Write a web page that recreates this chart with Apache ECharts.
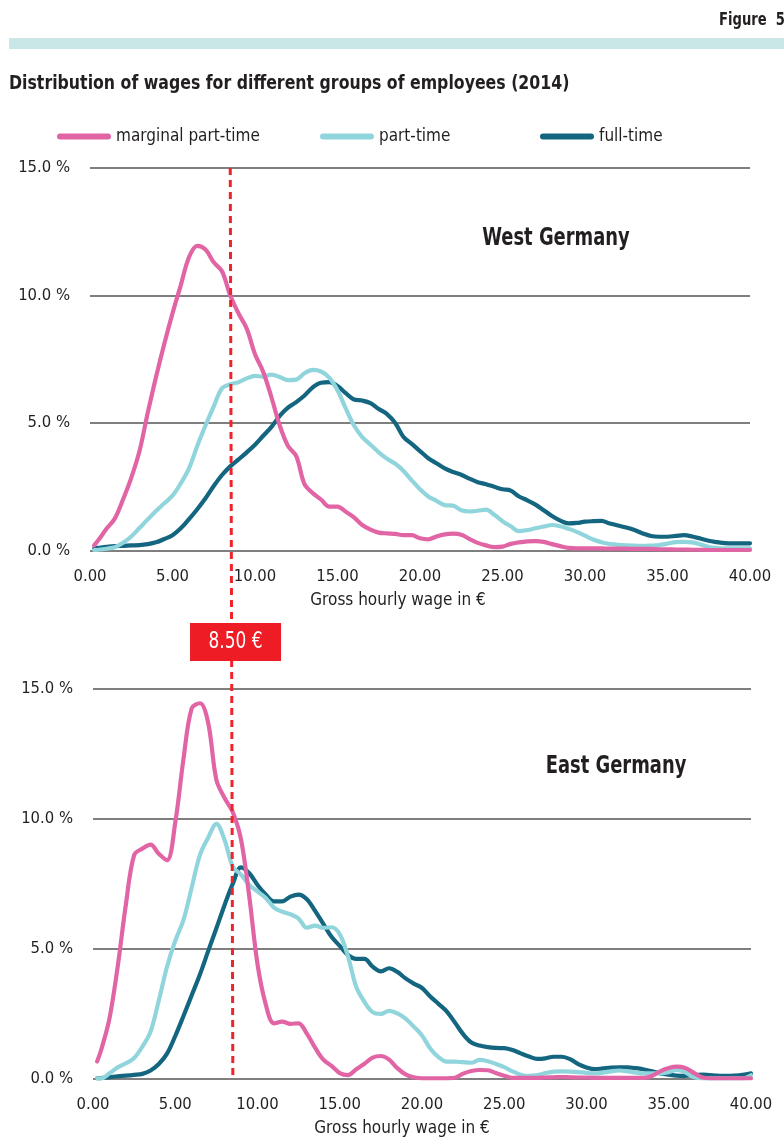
<!DOCTYPE html>
<html><head><meta charset="utf-8">
<script src="https://cdn.jsdelivr.net/npm/echarts@6/dist/echarts.min.js"></script>
<style>html,body{margin:0;padding:0;background:#fff;} #c{width:784px;height:1140px;}</style>
</head><body><div id="c"></div>
<script>
// ---- data ----
const MIN_WAGE = 8.5;
const wages = [0.25,0.5,1,1.5,2,2.5,3,3.5,4,4.5,
  5,5.5,6,6.5,7,7.5,8,8.5,9,9.5,
  10,10.5,11,11.5,12,12.5,13,13.5,14,14.5,
  15,15.5,16,16.5,17,17.5,18,18.5,19,19.5,
  20,20.5,21,21.5,22,22.5,23,23.5,24,24.5,
  25,25.5,26,26.5,27,27.5,28,28.5,29,29.5,
  30,30.5,31,31.5,32,32.5,33,33.5,34,34.5,
  35,35.5,36,36.5,37,37.5,38,38.5,39,39.5,
  40];
const xTicks = [0,5,10,15,20,25,30,35,40];
const yTicks = [0,5,10,15];
const seriesNames = ['marginal part-time','part-time','full-time'];
const regionNames = ['West Germany','East Germany'];

// West Germany (% of employees)
const westMarginal = [0.2,0.4,0.85,1.25,2.0,2.85,3.9,5.4,6.8,8.1,
  9.3,10.4,11.5,11.95,11.8,11.3,10.95,10.0,9.3,8.7,
  7.7,7.0,6.0,4.9,4.1,3.7,2.6,2.25,2.0,1.72,
  1.72,1.52,1.3,1.0,0.82,0.7,0.67,0.65,0.6,0.6,
  0.48,0.44,0.55,0.63,0.66,0.62,0.45,0.3,0.2,0.13,
  0.15,0.26,0.32,0.36,0.37,0.34,0.25,0.17,0.1,0.08,
  0.08,0.08,0.08,0.07,0.07,0.07,0.06,0.06,0.06,0.05,
  0.05,0.04,0.04,0.03,0.03,0.02,0.02,0.02,0.02,0.02,
  0.02];
const westPart = [0.02,0.03,0.07,0.13,0.3,0.55,0.88,1.22,1.55,1.85,
  2.15,2.63,3.22,4.1,4.9,5.65,6.36,6.52,6.6,6.75,
  6.85,6.82,6.9,6.8,6.68,6.7,6.95,7.08,7.02,6.78,
  6.28,5.57,4.9,4.45,4.15,3.85,3.6,3.4,3.12,2.75,
  2.4,2.12,1.95,1.78,1.76,1.58,1.53,1.56,1.6,1.4,
  1.15,0.95,0.76,0.8,0.87,0.94,1.0,0.95,0.85,0.73,
  0.58,0.43,0.32,0.26,0.22,0.2,0.19,0.18,0.19,0.21,
  0.27,0.33,0.34,0.32,0.24,0.14,0.1,0.08,0.08,0.08,
  0.08];
const westFull = [0.08,0.1,0.14,0.17,0.18,0.2,0.21,0.25,0.32,0.45,
  0.6,0.87,1.23,1.62,2.05,2.53,2.96,3.3,3.57,3.85,
  4.15,4.5,4.85,5.28,5.6,5.82,6.08,6.4,6.58,6.6,
  6.45,6.17,5.92,5.88,5.78,5.55,5.35,5.0,4.45,4.18,
  3.9,3.62,3.42,3.22,3.08,2.97,2.82,2.68,2.6,2.5,
  2.4,2.35,2.12,1.97,1.8,1.58,1.35,1.17,1.06,1.08,
  1.13,1.15,1.16,1.06,0.98,0.9,0.8,0.67,0.57,0.54,
  0.54,0.57,0.6,0.55,0.47,0.38,0.33,0.29,0.28,0.28,
  0.28];
// East Germany (% of employees)
const eastMarginal = [0.65,1.1,2.3,4.3,6.7,8.6,8.85,9.0,8.65,8.4,
  9.85,12.3,14.25,14.45,13.7,11.5,10.8,10.25,9.2,7.0,
  4.4,2.85,2.12,2.18,2.1,2.12,1.72,1.18,0.72,0.48,
  0.2,0.12,0.35,0.56,0.8,0.86,0.72,0.39,0.15,0.04,
  0,0,0,0,0.02,0.18,0.28,0.32,0.31,0.2,
  0.1,0.02,0.02,0.02,0.02,0.03,0.04,0.05,0.04,0.03,
  0.03,0.02,0.02,0.02,0.02,0.02,0.02,0.02,0.1,0.28,
  0.4,0.45,0.4,0.22,0.04,0,0,0,0,0,
  0];
const eastPart = [0,0,0.19,0.42,0.58,0.78,1.22,1.8,3.0,4.3,
  5.3,6.1,7.35,8.6,9.27,9.8,9.18,8.15,7.85,7.45,
  7.2,6.95,6.58,6.42,6.32,6.15,5.8,5.88,5.8,5.82,
  5.55,4.7,3.53,2.95,2.55,2.48,2.6,2.5,2.3,1.99,
  1.65,1.15,0.82,0.64,0.64,0.62,0.6,0.71,0.66,0.55,
  0.43,0.27,0.14,0.09,0.12,0.2,0.26,0.27,0.26,0.24,
  0.21,0.19,0.22,0.27,0.3,0.27,0.22,0.19,0.19,0.19,
  0.24,0.32,0.23,0.05,0,0,0,0,0,0,
  0.12];
const eastFull = [0,0.01,0.04,0.08,0.1,0.13,0.17,0.3,0.55,0.95,
  1.63,2.4,3.2,4.0,4.9,5.78,6.68,7.5,8.13,7.9,
  7.45,7.08,6.82,6.82,7.0,7.08,6.9,6.45,5.95,5.45,
  5.1,4.75,4.6,4.6,4.3,4.12,4.24,4.1,3.85,3.65,
  3.48,3.15,2.87,2.58,2.15,1.7,1.38,1.26,1.2,1.17,
  1.16,1.09,0.96,0.84,0.75,0.77,0.83,0.83,0.74,0.55,
  0.42,0.35,0.38,0.41,0.42,0.42,0.39,0.34,0.27,0.19,
  0.14,0.1,0.09,0.12,0.14,0.12,0.1,0.09,0.1,0.13,
  0.19];

// ---- styling ----
const FONT = '"DejaVu Sans Condensed","DejaVu Sans",sans-serif';
const TXT = '#231f20';
const COLORS = ['#e165a5', '#91d5dc', '#14657f'];
const LEGEND_LEFT = [57, 320, 540];
const ICON = 'path://M3,0 L51,0 A3,3 0 0 1 51,6 L3,6 A3,3 0 0 1 3,0 Z';
const FS = 16.5;

const chart = echarts.init(document.getElementById('c'), null, {renderer: 'canvas'});

function pairs(arr) { return wages.map((w, i) => [w, arr[i]]); }
const groups = [[westMarginal, westPart, westFull], [eastMarginal, eastPart, eastFull]];

const series = [];
groups.forEach((g, gi) => {
  [2, 1, 0].forEach(k => {
    series.push({
      name: seriesNames[k], type: 'line', xAxisIndex: gi, yAxisIndex: gi,
      data: pairs(g[k]), showSymbol: false, smooth: 0.35,
      lineStyle: {color: COLORS[k], width: 4.2, cap: 'round', join: 'round'},
      itemStyle: {color: COLORS[k]}, z: 3 + (2 - k)
    });
  });
});

const option = {
  animation: false,
  backgroundColor: '#fff',
  grid: [
    {left: 90, right: 34, top: 168, height: 382.5},
    {left: 93, right: 33, top: 689, height: 389.3}
  ],
  xAxis: [0, 1].map(i => ({
    type: 'value', gridIndex: i, min: xTicks[0], max: xTicks[xTicks.length - 1], interval: 5,
    axisLine: {show: false}, axisTick: {show: false}, splitLine: {show: false},
    axisLabel: {formatter: v => v.toFixed(2), fontSize: FS, color: TXT, fontFamily: FONT, margin: 18},
    name: 'Gross hourly wage in €', nameLocation: 'middle', nameGap: 42,
    nameTextStyle: {fontSize: 17, color: TXT, fontFamily: FONT, padding: [0, i === 0 ? 44 : 40, 0, 0]}
  })),
  yAxis: [0, 1].map(i => ({
    type: 'value', gridIndex: i, min: yTicks[0], max: yTicks[yTicks.length - 1], interval: 5,
    axisLine: {show: false}, axisTick: {show: false},
    splitLine: {lineStyle: {color: '#7f7f7f', width: 2}},
    axisLabel: {formatter: v => v.toFixed(1) + ' %', fontSize: FS, color: TXT, fontFamily: FONT, margin: 20}
  })),
  legend: seriesNames.map((n, k) => ({
    data: [n], left: LEGEND_LEFT[k], top: 128, padding: 0, itemGap: 0,
    itemWidth: 54, itemHeight: 6, icon: ICON, selectedMode: false,
    textStyle: {fontSize: 17, color: TXT, fontFamily: FONT}
  })),
  series: series
};
chart.setOption(option);

const xT = chart.convertToPixel({xAxisIndex: 0}, MIN_WAGE);
const xB = chart.convertToPixel({xAxisIndex: 1}, MIN_WAGE);
const yT = chart.convertToPixel({yAxisIndex: 0}, yTicks[yTicks.length - 1]);
const yB = chart.convertToPixel({yAxisIndex: 1}, 0);
const xMid = (xT + xB) / 2;

function label(text, x, y, font, align, sx, fill) {
  return {type: 'text', x: x, y: y, z: 62, scaleX: sx, scaleY: 1,
    style: {text: text, fill: fill || TXT, font: font, align: align, verticalAlign: 'middle'}};
}

chart.setOption({
  graphic: [
    label('Figure  5', 785, 21, 'bold 17px ' + FONT, 'right', 0.86),
    {type: 'rect', shape: {x: 9, y: 38, width: 775, height: 11}, style: {fill: '#c9e7e7'}, z: 50},
    label('Distribution of wages for different groups of employees (2014)', 9, 84, 'bold 20px ' + FONT, 'left', 0.876),
    label(regionNames[0], 556, 239, 'bold 24px ' + FONT, 'center', 0.83),
    label(regionNames[1], 616, 767, 'bold 24px ' + FONT, 'center', 0.83),
    {type: 'line', z: 60, shape: {x1: xT, y1: yT, x2: xB, y2: yB - 3},
      style: {stroke: '#f0232a', lineWidth: 3, lineDash: [7, 5]}},
    {type: 'rect', z: 61, shape: {x: xMid + 4 - 45.5, y: 623, width: 91, height: 38}, style: {fill: '#ee1c25'}},
    label(MIN_WAGE.toFixed(2) + ' €', xMid + 4, 642, '23px ' + FONT, 'center', 0.82, '#fff')
  ]
});
</script></body></html>
